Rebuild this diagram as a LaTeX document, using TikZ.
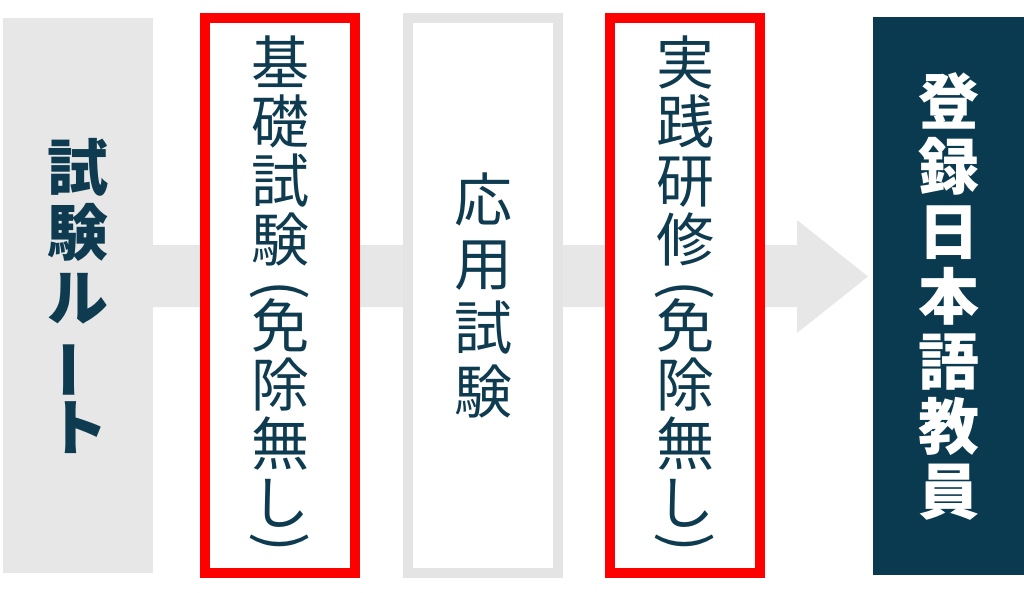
\documentclass[tikz,border=0pt]{standalone}
\usepackage{fontspec}
\newfontfamily\jpfont{Noto Sans CJK JP}
\definecolor{ink}{HTML}{0E3B50}
\definecolor{navy}{HTML}{0A3A4F}
\definecolor{panel}{HTML}{E7E7E7}
\definecolor{frame}{HTML}{E4E4E4}
\definecolor{alert}{HTML}{FF0000}
\newcommand{\vopen}{\rotatebox[origin=c]{-90}{(}}
\newcommand{\vclose}{\rotatebox[origin=c]{-90}{)}}
\newcommand{\vbar}{\rotatebox[origin=c]{90}{ー}}
\tikzset{
  stagebox/.style={draw=#1, line width=9.5pt, fill=white, inner sep=0pt,
    minimum width=150, minimum height=555, align=center, text=ink},
  stagetxt/.style={font=\jpfont\fontsize{58}{59}\selectfont},
  sidetxt/.style={align=center, inner sep=0pt,
    font=\jpfont\bfseries\fontsize{61}{65}\selectfont},
  band/.style={fill=panel}
}

\begin{document}
\begin{tikzpicture}[x=1pt, y=-1pt]
  \useasboundingbox (0,0) rectangle (1024,592);

  % arrow behind the stages
  \fill[band] (153,245) -- (797,245) -- (797,220) -- (868,276.5)
    -- (797,333) -- (797,307) -- (153,307) -- cycle;

  % start and goal
  \node[sidetxt, fill=panel, text=ink, minimum width=150, minimum height=555]
    (route) at (78,295.5) {試\\験\\ル\\\vbar\\ト};
  \node[sidetxt, fill=navy, text=white, minimum width=151, minimum height=558]
    (goal) at (948.5,296) {登\\録\\日\\本\\語\\教\\員};

  % stages
  \node[stagebox=alert, stagetxt] (basic) at (280,295.5) {};
  \node[stagetxt, align=center, text=ink, inner sep=0pt] (basictxt) at (280,298)
    {基\\礎\\試\\験\\[-12pt]\vopen\\[-20pt]免\\除\\無\\し\\[-23pt]\vclose};
  \node[stagebox=frame, stagetxt, font=\jpfont\fontsize{58}{64}\selectfont]
    (applied) at (483,295.5) {応\\用\\試\\験};
  \node[stagebox=alert, stagetxt] (practice) at (685,295.5) {};
  \node[stagetxt, align=center, text=ink, inner sep=0pt] (practicetxt) at (685,298)
    {実\\践\\研\\修\\[-12pt]\vopen\\[-20pt]免\\除\\無\\し\\[-23pt]\vclose};
\end{tikzpicture}
\end{document}
